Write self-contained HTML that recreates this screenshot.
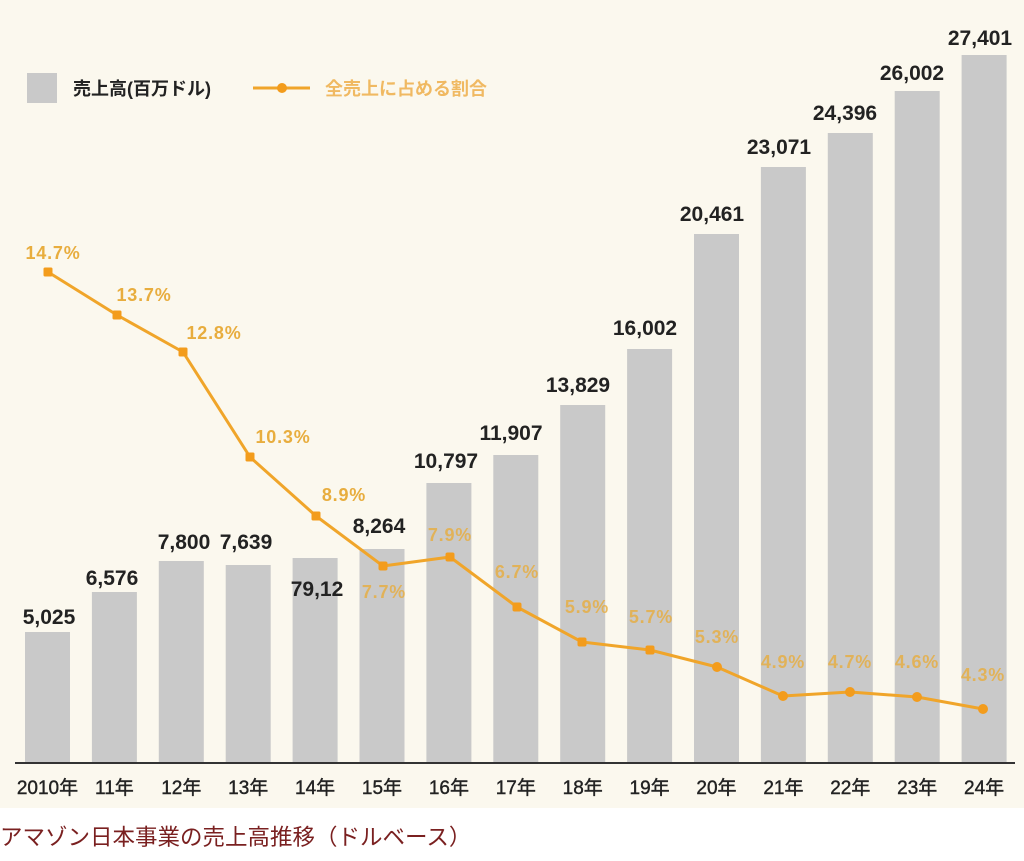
<!DOCTYPE html>
<html><head><meta charset="utf-8"><style>
html,body{margin:0;padding:0;background:#fff;}
body{width:1024px;height:861px;overflow:hidden;}
svg{display:block;}
text{font-family:"Liberation Sans","Noto Sans CJK JP",sans-serif;}
.v{font-size:21px;font-weight:bold;fill:#222;text-anchor:middle;}
.p{font-size:18px;font-weight:bold;fill:#e8ad3e;text-anchor:middle;letter-spacing:0.8px;}
.po{opacity:0.8;}
.x{font-size:19px;fill:#222;text-anchor:middle;stroke:#222;stroke-width:0.4px;}
</style></head><body>
<svg width="1024" height="861" viewBox="0 0 1024 861" xmlns="http://www.w3.org/2000/svg">
<rect x="0" y="0" width="1024" height="808" fill="#fbf8ee"/>
<rect x="0" y="808" width="1024" height="53" fill="#ffffff"/>

<!-- legend -->
<rect x="27" y="73" width="30" height="30" fill="#c9c9c9"/>
<text x="73" y="95" font-size="18" font-weight="bold" fill="#222">売上高(百万ドル)</text>
<line x1="253" y1="88" x2="310" y2="88" stroke="#f0a52a" stroke-width="3"/>
<circle cx="282" cy="88" r="5" fill="#f39c1c"/>
<text x="325" y="95" font-size="18" font-weight="bold" fill="#f0b962">全売上に占める割合</text>

<!-- bars -->
<g fill="#c9c9c9">
<rect x="25" y="632" width="45" height="130"/>
<rect x="91.9" y="592" width="45" height="170"/>
<rect x="158.8" y="561" width="45" height="201"/>
<rect x="225.7" y="565" width="45" height="197"/>
<rect x="292.6" y="558" width="45" height="204"/>
<rect x="359.5" y="549" width="45" height="213"/>
<rect x="426.4" y="483" width="45" height="279"/>
<rect x="493.3" y="455" width="45" height="307"/>
<rect x="560.2" y="405" width="45" height="357"/>
<rect x="627.1" y="349" width="45" height="413"/>
<rect x="694" y="234" width="45" height="528"/>
<rect x="760.9" y="167" width="45" height="595"/>
<rect x="827.8" y="133" width="45" height="629"/>
<rect x="894.7" y="91" width="45" height="671"/>
<rect x="961.6" y="55" width="45" height="707"/>
</g>

<!-- axis -->
<line x1="15" y1="763" x2="1015" y2="763" stroke="#333" stroke-width="2"/>

<!-- value labels -->
<text class="v" x="49" y="624">5,025</text>
<text class="v" x="112" y="585">6,576</text>
<text class="v" x="184" y="549">7,800</text>
<text class="v" x="246" y="549">7,639</text>
<text class="v" x="317" y="596">79,12</text>
<text class="v" x="379" y="533">8,264</text>
<text class="v" x="446" y="468">10,797</text>
<text class="v" x="511" y="440">11,907</text>
<text class="v" x="578" y="392">13,829</text>
<text class="v" x="645" y="335">16,002</text>
<text class="v" x="712" y="221">20,461</text>
<text class="v" x="779" y="154">23,071</text>
<text class="v" x="845" y="120">24,396</text>
<text class="v" x="912" y="80">26,002</text>
<text class="v" x="980" y="45">27,401</text>

<!-- line -->
<polyline fill="none" stroke="#f0a52a" stroke-width="3" stroke-linejoin="round"
points="48,272 117,315 183,352 250,457 316,516 383,566 450,557 517,607 582,642 650,650 717,667 783,696 850,692 917,697 983,709"/>
<g fill="#f39c1c">
<rect x="43.5" y="267.5" width="9" height="9" rx="1.5"/>
<rect x="112.5" y="310.5" width="9" height="9" rx="1.5"/>
<rect x="178.5" y="347.5" width="9" height="9" rx="1.5"/>
<rect x="245.5" y="452.5" width="9" height="9" rx="1.5"/>
<rect x="311.5" y="511.5" width="9" height="9" rx="1.5"/>
<rect x="378.5" y="561.5" width="9" height="9" rx="2"/>
<rect x="445.5" y="552.5" width="9" height="9" rx="2"/>
<rect x="512.5" y="602.5" width="9" height="9" rx="2"/>
<rect x="577.5" y="637.5" width="9" height="9" rx="2"/>
<rect x="645.5" y="645.5" width="9" height="9" rx="2"/>
<circle cx="717" cy="667" r="5"/>
<circle cx="783" cy="696" r="5"/>
<circle cx="850" cy="692" r="5"/>
<circle cx="917" cy="697" r="5"/>
<circle cx="983" cy="709" r="5"/>
</g>

<!-- pct labels -->
<text class="p" x="53" y="259">14.7%</text>
<text class="p" x="144" y="301">13.7%</text>
<text class="p" x="214" y="339">12.8%</text>
<text class="p" x="283" y="443">10.3%</text>
<text class="p" x="344" y="501">8.9%</text>
<text class="p po" x="384" y="598">7.7%</text>
<text class="p po" x="450" y="541">7.9%</text>
<text class="p po" x="517" y="578">6.7%</text>
<text class="p po" x="587" y="613">5.9%</text>
<text class="p po" x="651" y="623">5.7%</text>
<text class="p po" x="717" y="643">5.3%</text>
<text class="p po" x="783" y="668">4.9%</text>
<text class="p po" x="850" y="668">4.7%</text>
<text class="p po" x="917" y="668">4.6%</text>
<text class="p po" x="983" y="681">4.3%</text>

<!-- x labels -->
<text class="x" x="47.5" y="794">2010年</text>
<text class="x" x="114.4" y="794">11年</text>
<text class="x" x="181.3" y="794">12年</text>
<text class="x" x="248.2" y="794">13年</text>
<text class="x" x="315.1" y="794">14年</text>
<text class="x" x="382" y="794">15年</text>
<text class="x" x="448.9" y="794">16年</text>
<text class="x" x="515.8" y="794">17年</text>
<text class="x" x="582.7" y="794">18年</text>
<text class="x" x="649.6" y="794">19年</text>
<text class="x" x="716.5" y="794">20年</text>
<text class="x" x="783.4" y="794">21年</text>
<text class="x" x="850.3" y="794">22年</text>
<text class="x" x="917.2" y="794">23年</text>
<text class="x" x="984.1" y="794">24年</text>

<!-- caption -->
<text x="0" y="845" font-size="22.5" fill="#7a2020">アマゾン日本事業の売上高推移（ドルベース）</text>
</svg>
</body></html>
